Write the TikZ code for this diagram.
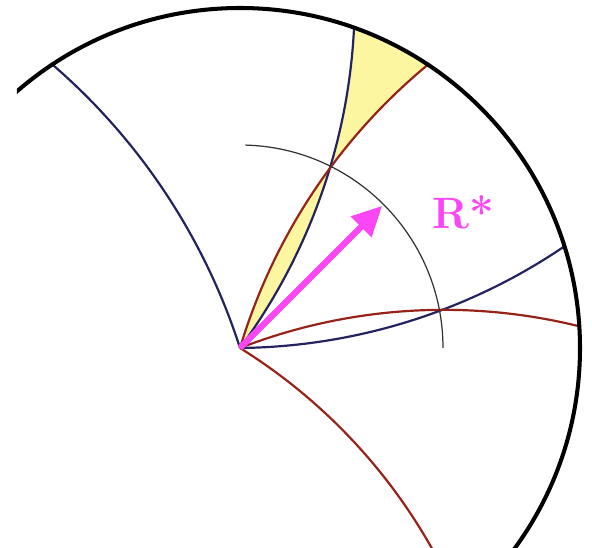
\documentclass[tikz,border=0pt]{standalone}
\usetikzlibrary{arrows.meta}
\definecolor{cNavy}{RGB}{35,35,95}
\definecolor{cRed}{RGB}{150,35,25}
\definecolor{cPink}{RGB}{250,70,245}
\definecolor{cYellow}{RGB}{252,246,160}
\tikzset{
  rim/.style={line width=2.3pt},
  blueline/.style={cNavy, line width=1.25pt},
  redline/.style={cRed, line width=1.25pt},
  radiusarc/.style={black!80, line width=0.7pt},
  vec/.style={-{Triangle[length=17pt,width=16pt]}, line width=3.5pt, cPink},
}
\begin{document}
\begin{tikzpicture}[x=0.02cm,y=0.02cm]
	\useasboundingbox (-240,-200) rectangle (352,348);
	\clip (-223,-200) rectangle (352,348);
	\coordinate (O) at (0,0);
	\begin{scope}
		\clip (O) circle[radius=340];
		% yellow pieces
		\fill[cYellow] (O) arc[start angle=163.3, end angle=143.5, radius=586]
			arc[start angle=-16.7, end angle=-36.4, radius=588] -- cycle;
		\fill[cYellow] (90,180) arc[start angle=143.5, end angle=125, radius=586]
			-- (114.6,369.5) arc[start angle=2, end angle=-16.7, radius=588] -- cycle;
		% curves through O
		\draw[blueline] (O) arc[start angle=17.8, end angle=50, radius=628];
		\draw[blueline] (O) arc[start angle=-36.4, end angle=0, radius=588];
		\draw[redline] (O) arc[start angle=163.3, end angle=127, radius=586];
		\draw[blueline] (O) arc[start angle=-89.4, end angle=-53, radius=588];
		\draw[redline] (O) arc[start angle=111.2, end angle=74, radius=564];
		\draw[redline] (O) arc[start angle=58.1, end angle=25, radius=560];
		%\draw (O) circle[radius=203];
		\draw[radiusarc] (0:203) arc[start angle=0, end angle=88.5, radius=203];
	\end{scope}
	\draw[rim] (O) circle[radius=340];
	\draw[vec] (O) -- (45:201);
	\node[text=cPink, font=\fontsize{25}{30}\selectfont\bfseries] (lbl) at (223,136) {R*};
\end{tikzpicture}
\end{document}
